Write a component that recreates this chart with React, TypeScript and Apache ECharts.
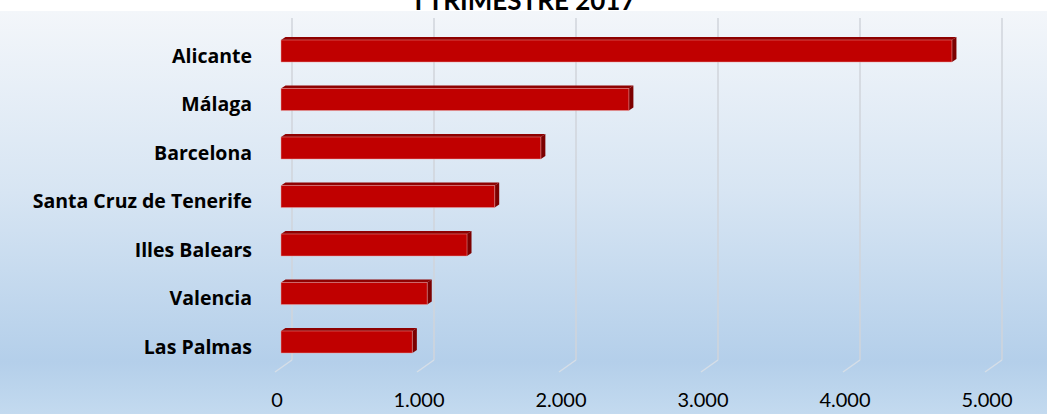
import React, { useEffect, useRef } from "react";
import * as echarts from "echarts";

const title = "I TRIMESTRE 2017";
const categories = [
  "Alicante",
  "Málaga",
  "Barcelona",
  "Santa Cruz de Tenerife",
  "Illes Balears",
  "Valencia",
  "Las Palmas",
];
const values = [4725, 2450, 1830, 1505, 1310, 1030, 925];
const ticks = [0, 1000, 2000, 3000, 4000, 5000];

const fmt = (v: number) => String(v).replace(/\B(?=(\d{3})+(?!\d))/g, ".");

export default function App() {
  const ref = useRef<HTMLDivElement>(null);
  useEffect(() => {
    if (!ref.current) return;
    const chart = echarts.init(ref.current, null, { renderer: "svg" });
    const FONT = "Lato";
    const option: any = {
      animation: false,
      backgroundColor: "#ffffff",
      graphic: [
        {
          type: "rect",
          z: -10,
          silent: true,
          shape: { x: 0, y: 11, width: 1047, height: 403 },
          style: {
            fill: new echarts.graphic.LinearGradient(0, 0, 0, 1, [
              { offset: 0, color: "#f3f6fa" },
              { offset: 0.45, color: "#d7e5f3" },
              { offset: 0.87, color: "#b4cfea" },
              { offset: 1, color: "#c3daef" },
            ]),
          },
        },
        {
          type: "text",
          z: 10,
          style: {
            text: title,
            x: 525,
            y: 13,
            textAlign: "center",
            textVerticalAlign: "bottom",
            font: `bold 26px ${FONT}`,
            fill: "#000",
          },
        },
      ],
      grid: [
        { left: 281, right: 56, top: 26.75, bottom: 47.75 },
        { left: 292, right: 45, top: 18, bottom: 54 },
        { left: 277, right: 60, top: 18, bottom: 54 },
      ],
      xAxis: [
        {
          gridIndex: 0,
          type: "value",
          min: 0,
          max: 5000,
          interval: 1000,
          axisLine: { show: false },
          axisTick: { show: false },
          axisLabel: { show: false },
          splitLine: { show: false },
        },
        {
          gridIndex: 1,
          type: "value",
          min: 0,
          max: 5000,
          interval: 1000,
          axisLine: { show: false },
          axisTick: { show: false },
          axisLabel: { show: false },
          splitLine: { show: true, lineStyle: { color: "#d0d5db", width: 1.5 } },
        },
        {
          gridIndex: 2,
          type: "value",
          min: 0,
          max: 5000,
          interval: 1000,
          axisLine: { show: false },
          axisTick: { show: false },
          splitLine: { show: false },
          axisLabel: {
            margin: 29,
            formatter: (v: number) => fmt(v),
            fontFamily: FONT,
            fontSize: 20,
            color: "#000",
          },
        },
      ],
      yAxis: [
        {
          gridIndex: 0,
          type: "category",
          data: categories,
          inverse: true,
          axisLine: { show: false },
          axisTick: { show: false },
          splitLine: { show: false },
          axisLabel: {
            margin: 29,
            formatter: (v: string) => `{a|${v}}`,
            rich: {
              a: {
                fontFamily: "Open Sans",
                fontWeight: "bold",
                fontSize: 19.5,
                color: "#000",
                padding: [8, 0, 0, 0],
              },
            },
          },
        },
        {
          gridIndex: 1,
          type: "value",
          min: 0,
          max: 1,
          show: false,
        },
        {
          gridIndex: 2,
          type: "value",
          min: 0,
          max: 1,
          show: false,
        },
      ],
      series: [
        {
          type: "custom",
          xAxisIndex: 1,
          yAxisIndex: 1,
          silent: true,
          data: ticks.map((t) => [t, 0]),
          renderItem: (params: any, api: any) => {
            const p = api.coord([api.value(0), 0]);
            return {
              type: "line",
              shape: { x1: p[0], y1: p[1], x2: p[0] - 17, y2: p[1] + 12 },
              style: { stroke: "#d6dee7", lineWidth: 1.5 },
            };
          },
        },
        {
          type: "custom",
          xAxisIndex: 0,
          yAxisIndex: 0,
          silent: true,
          data: values.map((v, i) => [v, i]),
          renderItem: (params: any, api: any) => {
            const idx = api.value(1);
            const end = api.coord([api.value(0), idx]);
            const start = api.coord([0, idx]);
            const h = api.size([0, 1])[1] * 0.455;
            const x0 = start[0];
            const x1 = end[0];
            const y0 = end[1] - h / 2;
            const y1 = end[1] + h / 2;
            const dx = 4.5;
            const dy = -3;
            return {
              type: "group",
              children: [
                {
                  type: "polygon",
                  shape: {
                    points: [
                      [x0, y0],
                      [x0 + dx, y0 + dy],
                      [x1 + dx, y0 + dy],
                      [x1, y0],
                    ],
                  },
                  style: { fill: "#8e0000" },
                },
                {
                  type: "polygon",
                  shape: {
                    points: [
                      [x1, y0],
                      [x1 + dx, y0 + dy],
                      [x1 + dx, y1 + dy],
                      [x1, y1],
                    ],
                  },
                  style: { fill: "#7c0000" },
                },
                {
                  type: "rect",
                  shape: { x: x0, y: y0, width: x1 - x0, height: y1 - y0 },
                  style: { fill: "#c00000", stroke: "#e8a0a0", lineWidth: 0.5 },
                },
              ],
            };
          },
        },
      ],
    };
    chart.setOption(option);
    return () => chart.dispose();
  }, []);
  return (
    <div
      ref={ref}
      style={{ position: "fixed", left: 0, top: 0, width: 1047, height: 414 }}
    />
  );
}
